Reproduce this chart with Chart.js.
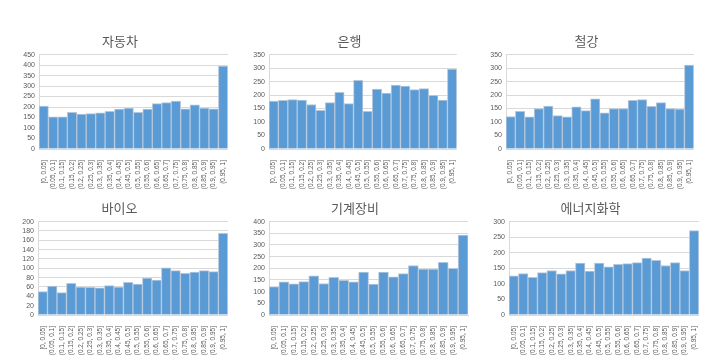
<!DOCTYPE html>
<html>
<head>
<meta charset="utf-8">
<script src="https://cdn.jsdelivr.net/npm/chart.js@4.4.1/dist/chart.umd.min.js"></script>
<style>
  html, body { margin: 0; padding: 0; background: #fff; }
  body { width: 714px; height: 362px; position: relative; overflow: hidden; }
  .panel { position: absolute; }
</style>
</head>
<body>
<div class="panel" id="p1"><canvas id="c1"></canvas></div>
<div class="panel" id="p2"><canvas id="c2"></canvas></div>
<div class="panel" id="p3"><canvas id="c3"></canvas></div>
<div class="panel" id="p4"><canvas id="c4"></canvas></div>
<div class="panel" id="p5"><canvas id="c5"></canvas></div>
<div class="panel" id="p6"><canvas id="c6"></canvas></div>
<script>
const bins = [
  '[0, 0.05]', '(0.05, 0.1]', '(0.1, 0.15]', '(0.15, 0.2]', '(0.2, 0.25]',
  '(0.25, 0.3]', '(0.3, 0.35]', '(0.35, 0.4]', '(0.4, 0.45]', '(0.45, 0.5]',
  '(0.5, 0.55]', '(0.55, 0.6]', '(0.6, 0.65]', '(0.65, 0.7]', '(0.7, 0.75]',
  '(0.75, 0.8]', '(0.8, 0.85]', '(0.85, 0.9]', '(0.9, 0.95]', '(0.95, 1]'
];

const autoValues = [205, 153, 153, 175, 166, 169, 172, 179, 190, 195, 175, 190, 216, 221, 229, 192, 211, 195, 192, 395];
const bankValues = [178, 180, 183, 181, 165, 143, 172, 210, 168, 255, 140, 222, 207, 237, 233, 220, 224, 199, 181, 296];
const steelValues = [120, 140, 119, 150, 159, 124, 119, 156, 142, 186, 134, 150, 150, 180, 183, 158, 172, 150, 148, 311];
const bioValues = [50, 62, 48, 68, 60, 59, 58, 63, 60, 70, 66, 79, 75, 101, 95, 89, 92, 95, 93, 175];
const machineValues = [122, 142, 133, 143, 168, 135, 161, 148, 142, 184, 132, 184, 164, 177, 212, 197, 197, 226, 200, 342];
const energyValues = [126, 133, 121, 136, 143, 132, 143, 167, 141, 167, 155, 163, 165, 168, 183, 176, 159, 168, 143, 271];

const panels = [
  { id: 'c1', box: 'p1', title: '자동차', data: autoValues, max: 450, step: 50, left: 9, top: 33, right: 234, bottom: 195 },
  { id: 'c2', box: 'p2', title: '은행', data: bankValues, max: 350, step: 50, left: 239, top: 33, right: 463, bottom: 195 },
  { id: 'c3', box: 'p3', title: '철강', data: steelValues, max: 350, step: 50, left: 476, top: 33, right: 700, bottom: 195 },
  { id: 'c4', box: 'p4', title: '바이오', data: bioValues, max: 200, step: 20, left: 8, top: 200, right: 234, bottom: 361 },
  { id: 'c5', box: 'p5', title: '기계장비', data: machineValues, max: 400, step: 50, left: 239, top: 200, right: 474, bottom: 361 },
  { id: 'c6', box: 'p6', title: '에너지화학', data: energyValues, max: 300, step: 50, left: 479, top: 200, right: 705, bottom: 361 },
];

const titleFont = '"Noto Sans CJK KR", "Noto Sans", sans-serif';
const tickFont = '"Liberation Sans", Arial, sans-serif';

panels.forEach((p) => {
  const box = document.getElementById(p.box);
  box.style.left = p.left + 'px';
  box.style.top = p.top + 'px';
  box.style.width = (p.right - p.left) + 'px';
  box.style.height = (p.bottom - p.top) + 'px';

  new Chart(document.getElementById(p.id), {
    type: 'bar',
    data: {
      labels: bins,
      datasets: [{
        data: p.data,
        backgroundColor: '#5B9BD5',
        borderColor: '#B4C7DC',
        borderWidth: 1,
        categoryPercentage: 1,
        barPercentage: 1,
      }],
    },
    options: {
      responsive: true,
      maintainAspectRatio: false,
      animation: false,
      layout: { padding: { top: 0, right: 3, bottom: 0, left: 0 } },
      plugins: {
        legend: { display: false },
        tooltip: { enabled: false },
        title: {
          display: true,
          text: p.title,
          color: '#595959',
          font: { family: titleFont, size: 13, weight: 'normal' },
          padding: { top: 0, bottom: 6 },
        },
      },
      scales: {
        x: {
          grid: { display: false },
          border: { color: '#D9D9D9' },
          ticks: {
            autoSkip: false,
            maxRotation: 90,
            minRotation: 90,
            padding: 3,
            color: '#595959',
            font: { family: tickFont, size: 6.5 },
          },
          afterFit: (scale) => { scale.height = 46; },
        },
        y: {
          min: 0,
          max: p.max,
          grid: { color: '#D9D9D9', drawTicks: false },
          border: { color: '#D9D9D9' },
          ticks: {
            autoSkip: false,
            stepSize: p.step,
            padding: 4,
            color: '#595959',
            font: { family: tickFont, size: 7 },
          },
          afterFit: (scale) => { scale.width = 30; },
        },
      },
    },
  });
});
</script>
</body>
</html>
